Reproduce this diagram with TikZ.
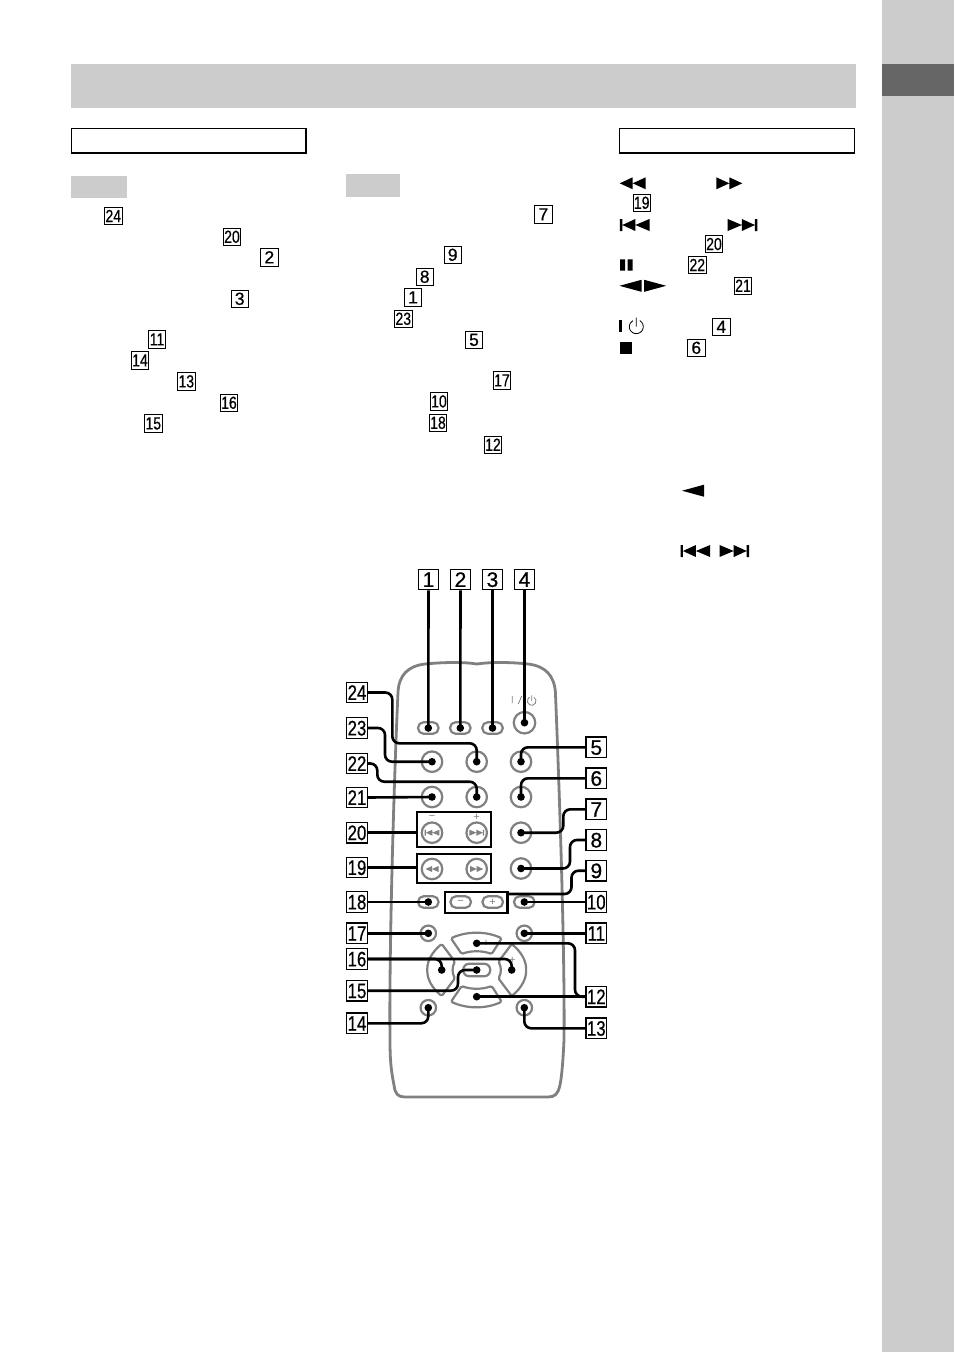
\documentclass[tikz,border=0pt]{standalone}
\usepackage{graphicx}
\usepackage{fontspec}
\setmainfont{Liberation Sans}
\newfontfamily\numfont[FakeBold=.6]{Liberation Sans}
\usetikzlibrary{positioning}
\definecolor{pagegray}{HTML}{CCCCCC}
\definecolor{tabgray}{HTML}{666666}
\definecolor{bodygray}{HTML}{808080}
\newcommand{\remnum}[1]{\ifnum#1>9 \scalebox{.8}[1]{#1}\else #1\fi}
\tikzset{
	numbox/.style={draw,fill=white,line width=1.2pt,inner sep=0pt,minimum size=20.5pt,font=\numfont\fontsize{21}{21}\selectfont,text height=14.8pt,text depth=0pt},
	inbox/.style={draw,fill=white,line width=.9pt,inner sep=0pt,minimum size=17.5pt,font=\numfont\fontsize{17.5}{17.5}\selectfont,text height=12.2pt,text depth=0pt},
	roundbtn/.style={circle,draw=bodygray,fill=white,line width=2.2pt,inner sep=0pt,minimum size=20.5pt},
	smallbtn/.style={circle,draw=bodygray,fill=white,line width=2.2pt,inner sep=0pt,minimum size=15.5pt},
	ovalbtn/.style={rectangle,draw=bodygray,fill=white,line width=2.2pt,rounded corners=5.5pt,inner sep=0pt,minimum width=20.5pt,minimum height=11.5pt},
	grpbox/.style={draw,line width=2.4pt,inner sep=0pt},
	lead/.style={line width=2.6pt,rounded corners=7pt},
	padkey/.style={draw=bodygray,fill=white,line width=2.2pt,rounded corners=1.5pt},
	signtxt/.style={text=bodygray,inner sep=0pt,font=\fontsize{11}{11}\selectfont},
	tworew/.pic={\fill (-13,0) -- (0,-6) -- (0,6) -- cycle (0,0) -- (13,-6) -- (13,6) -- cycle;},
	skiprew/.pic={\fill (-14.8,-6) rectangle (-12.4,6) (-12.4,0) -- (0.6,-6) -- (0.6,6) -- cycle (0.6,0) -- (14.8,-6) -- (14.8,6) -- cycle;},
	longtri/.pic={\fill (-11,0) -- (11,-6) -- (11,6) -- cycle;},
	powersym/.pic={\draw (-60:7) arc[start angle=-60,end angle=240,radius=7] (0,-9) -- (0,0);}
}
\begin{document}
\begin{tikzpicture}[x=1pt,y=-1pt]
	\useasboundingbox (0,0) rectangle (954,1352);
	% page furniture
	\fill[pagegray] (882,0) rectangle (954,1352);
	\fill[tabgray] (882,64) rectangle (954,96);
	\fill[pagegray] (71,64) rectangle (856,108);
	\draw[line width=1.1pt] (71.5,128.5) rectangle (306,153);
	\draw[line width=1.1pt] (619.5,128.5) rectangle (854.7,153);
	\fill[pagegray] (71,176) rectangle (127,198);
	\fill[pagegray] (346,174) rectangle (400,197);
	% boxed numbers in the text
	\foreach \num/\x/\y [count=\i] in {24/113.3/216,20/232/236.7,2/269.3/257.3,3/239.7/298.7,11/157/339.3,14/140/360.3,13/186.3/381.3,16/229/402.7,15/153.3/423.3,7/543.3/214.3,9/452.7/254.7,8/424.7/276.7,1/413/297.3,23/403.3/318.7,5/474/339.7,17/502/380.3,10/439/401.3,18/438/422.7,12/493/444.7,19/641.7/202.7,20/714/244,22/697.3/265,21/743/285.7,4/721.3/326.7,6/696.3/347.7}
		\node[inbox] (t\i) at (\x,\y) {\remnum{\num}};
	% key symbols in the text
	\pic at (632.7,183.3) {tworew};
	\pic[xscale=-1] at (729.3,183.3) {tworew};
	\pic at (634.7,225) {skiprew};
	\pic[xscale=-1] at (742.5,225) {skiprew};
	\fill (620,259.3) rectangle (625,270.7) (627.7,259.3) rectangle (632.7,270.7);
	\pic at (630.5,285.8) {longtri};
	\pic[xscale=-1] at (655.2,285.8) {longtri};
	\fill (619.3,320) rectangle (622.3,332.3);
	\pic[line width=.8pt] at (636.3,326.7) {powersym};
	\fill (620,341.7) rectangle (632.3,354);
	\pic at (693,490.7) {longtri};
	\pic at (695.3,551) {skiprew};
	\pic[xscale=-1] at (734.3,551) {skiprew};
	% remote body
	\draw[bodygray,line width=2.8pt] (398,692) .. controls (399,675) and (408,666) .. (425,664) .. controls (445,662) and (465,662) .. (476.7,664) .. controls (490,662) and (510,662) .. (528,664) .. controls (545,666) and (554,675) .. (555.4,692) .. controls (559,780) and (565,950) .. (564,1040) .. controls (563,1060) and (562,1075) .. (560,1085) .. controls (558,1094) and (555,1097) .. (548,1097) -- (405,1097) .. controls (398,1097) and (395,1094) .. (394,1085) .. controls (391,1070) and (390,1060) .. (390,1040) .. controls (389,950) and (394,780) .. (398,692) -- cycle;
	% buttons
	\node[ovalbtn] (b1) at (428.3,728) {};
	\node[ovalbtn] (b2) at (460.3,728) {};
	\node[ovalbtn] (b3) at (492.5,728) {};
	\node[roundbtn,minimum size=21.5pt] (b4) at (524.5,722.7) {};
	\node[roundbtn] (b23) at (432,761.7) {};
	\node[roundbtn] (b24) at (476.7,761.7) {};
	\node[roundbtn] (b5) at (521,761.7) {};
	\node[roundbtn] (b21) at (432,797) {};
	\node[roundbtn] (b22) at (476.7,797) {};
	\node[roundbtn] (b6) at (521,797) {};
	\node[roundbtn] (b20a) at (432,832.7) {};
	\node[roundbtn] (b20b) at (476.7,832.7) {};
	\node[roundbtn] (b7) at (521,832.7) {};
	\node[roundbtn] (b19a) at (432,869) {};
	\node[roundbtn] (b19b) at (476.7,869) {};
	\node[roundbtn] (b8) at (521,868.5) {};
	\node[ovalbtn] (b18) at (428.3,902) {};
	\node[ovalbtn] (b9a) at (460.7,902) {};
	\node[ovalbtn] (b9b) at (492.7,902) {};
	\node[ovalbtn] (b10) at (524.3,902) {};
	\node[smallbtn] (b17) at (428.3,933.3) {};
	\node[smallbtn] (b11) at (524.3,933.3) {};
	\node[smallbtn] (b14) at (428.3,1007.7) {};
	\node[smallbtn] (b13) at (524.3,1007.7) {};
	\node[grpbox,minimum width=74pt,minimum height=35pt] (box20) at (454,829.5) {};
	\node[grpbox,minimum width=74pt,minimum height=29pt] (box19) at (454,868.5) {};
	\node[grpbox,minimum width=62.5pt,minimum height=21pt] (box9) at (476.3,902.2) {};
	% cross keys
	\draw[padkey] (451,938.3) .. controls (467,931) and (486,931) .. (501.7,938.3) -- (491.7,954) .. controls (482,950.5) and (471,950.5) .. (461.7,954) -- cycle;
	\draw[padkey] (451,1001.7) .. controls (467,1009) and (486,1009) .. (501.7,1001.7) -- (491.7,986) .. controls (482,989.5) and (471,989.5) .. (461.7,986) -- cycle;
	\draw[padkey] (441.7,944) .. controls (432,952) and (427.3,961) .. (427.3,970) .. controls (427.3,979) and (432,988) .. (441.7,996) -- (455,978.3) .. controls (452,973) and (452,967) .. (455,961.7) -- cycle;
	\draw[padkey] (511.7,944) .. controls (521.4,952) and (526.1,961) .. (526.1,970) .. controls (526.1,979) and (521.4,988) .. (511.7,996) -- (498.4,978.3) .. controls (501.4,973) and (501.4,967) .. (498.4,961.7) -- cycle;
	\node[ovalbtn,minimum width=27pt,minimum height=12.5pt,rounded corners=6pt] (b15) at (476.7,970) {};
	\coordinate (padT) at (476.7,943.3);
	\coordinate (padB) at (476.7,996.7);
	\coordinate (padL) at (441.7,970);
	\coordinate (padR) at (511.7,970);
	% key marks
	\node[signtxt] (s1) at (432,817.5) {−};
	\node[signtxt] (s2) at (476.7,817.5) {+};
	\node[signtxt] (s3) at (460.7,902) {−};
	\node[signtxt] (s4) at (492.7,902) {+};
	\node[signtxt] (s5) at (486,943) {+};
	\node[signtxt] (s6) at (512.3,960) {+};
	\node[signtxt] (s7) at (441.7,960) {−};
	\draw[bodygray,line width=.8pt] (512.3,696) -- (512.3,703) (518.3,704) -- (521.7,696);
	\pic[bodygray,line width=.8pt,scale=.62] at (531.7,701) {powersym};
	\pic[bodygray,scale=.5] at (432,832.7) {skiprew};
	\pic[bodygray,scale=.5,xscale=-1] at (476.7,832.7) {skiprew};
	\pic[bodygray,scale=.5] at (432,869) {tworew};
	\pic[bodygray,scale=.5,xscale=-1] at (476.7,869) {tworew};
	% number boxes round the remote
	\foreach \num/\x in {1/428.5,2/460.5,3/492.5,4/524.5}
		\node[numbox] (n\num) at (\x,579.5) {\remnum{\num}};
	\foreach \num/\y in {24/692.5,23/728,22/763.5,21/797.5,20/832.7,19/867.5,18/902,17/933.3,16/959,15/990.7,14/1023.3}
		\node[numbox] (n\num) at (357,\y) {\remnum{\num}};
	\foreach \num/\y in {5/747.3,6/778.3,7/809.3,8/840,9/870.7,10/902,11/933.3,12/996.7,13/1028.3}
		\node[numbox] (n\num) at (596.3,\y) {\remnum{\num}};
	% leaders
	\foreach \b in {b1,b2,b3,b4,b5,b6,b7,b8,b10,b11,b13,b14,b15,b17,b18,b21,b22,b23,b24,padT,padB,padL,padR}
		\fill (\b) circle (3.8);
	\foreach \k in {1,2,3,4}
		\draw[lead] (n\k.south) -- (b\k.center);
	\draw[lead] (n24.east) -| (392.3,743.3) -| (b24.center);
	\draw[lead] (n23.east) -| (385,761.7) -- (b23.center);
	\draw[lead] (n22.east) -| (377.3,781.7) -| (b22.center);
	\draw[lead] (n21.east) -- (b21.center);
	\draw[lead] (n20.east) -- (box20.west |- n20);
	\draw[lead] (n19.east) -- (box19.west |- n19);
	\draw[lead] (n18.east) -- (b18.center);
	\draw[lead] (n17.east) -- (b17.center);
	\draw[lead] (n16.east) -| (padL);
	\draw[lead] (n16.east) -| (padR);
	\draw[lead] (n15.east) -| (458,970) -- (b15.center);
	\draw[lead] (n14.east) -| (b14.center);
	\draw[lead] (b5.center) |- (n5.west);
	\draw[lead] (b6.center) |- (n6.west);
	\draw[lead] (b7.center) -| (563.3,809.3) -- (n7.west);
	\draw[lead] (b8.center) -| (570,840) -- (n8.west);
	\coordinate (k9) at (507.5,894);
	\draw[lead] (k9) -| (571.5,870.7) -- (n9.west);
	\draw[lead] (b10.center) -- (n10.west);
	\draw[lead] (b11.center) -- (n11.west);
	\draw[lead] (padT) -| (575,996.7) -- (n12.west);
	\draw[lead] (padB) -- (n12.west);
	\draw[lead] (b13.center) |- (n13.west);
\end{tikzpicture}
\end{document}
